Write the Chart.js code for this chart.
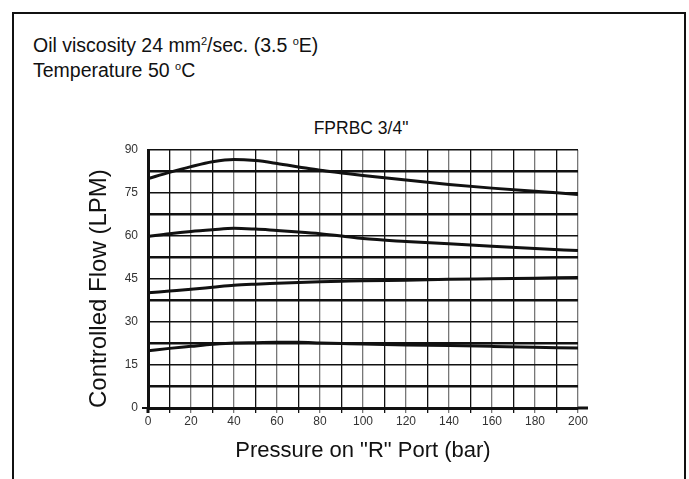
<!DOCTYPE html>
<html>
<head>
<meta charset="utf-8">
<script src="https://cdn.jsdelivr.net/npm/chart.js@4"></script>
<style>
  html, body { margin: 0; padding: 0; background: #fff; }
  body { width: 689px; height: 479px; overflow: hidden; position: relative; font-family: "Liberation Sans", Arial, sans-serif; }
  .frame { position: absolute; left: 12px; top: 12px; width: 670px; height: 500px; border: 2px solid #111; border-bottom: none; }
  .note { position: absolute; left: 33px; font-size: 19.5px; line-height: 22px; color: #111; white-space: nowrap; }
  .note sup { font-size: 11px; vertical-align: 7px; line-height: 0; }
  .ctitle { position: absolute; left: 261px; width: 200px; top: 118px; line-height: 20px; text-align: center; font-size: 17.5px; color: #111; white-space: nowrap; }
  #wrap { position: absolute; left: 0; top: 0; width: 689px; height: 479px; }
</style>
</head>
<body>
<div class="frame"></div>
<div class="note" style="top:34px">Oil viscosity 24 mm<sup>2</sup>/sec. (3.5 <sup>o</sup>E)</div>
<div class="note" style="top:59px">Temperature 50 <sup>o</sup>C</div>
<div class="ctitle" id="ctitle"></div>
<div id="wrap"><canvas id="chart"></canvas></div>
<script>
// pressure on R port (bar)
const pressure = [0, 10, 20, 30, 40, 50, 60, 70, 80, 90, 100, 120, 140, 160, 180, 200];

// controlled flow (LPM), one array per setting
const flow80 = [80, 82.2, 84.2, 85.9, 86.7, 86.3, 85.3, 84.1, 82.9, 82, 81.1, 79.5, 78, 76.7, 75.6, 74.5];
const flow60 = [59.8, 60.8, 61.6, 62.2, 62.7, 62.4, 61.9, 61.4, 60.8, 60, 59.1, 58.1, 57.3, 56.4, 55.6, 54.9];
const flow40 = [40.2, 40.8, 41.4, 42.1, 42.8, 43.2, 43.5, 43.8, 44, 44.2, 44.4, 44.6, 44.9, 45.1, 45.3, 45.5];
const flow20 = [20, 20.8, 21.5, 22.2, 22.7, 22.8, 22.9, 22.9, 22.7, 22.5, 22.3, 22, 21.8, 21.5, 21.2, 20.9];

const title = 'FPRBC 3/4"';
const xTitle = 'Pressure on "R" Port (bar)';
const yTitle = 'Controlled Flow (LPM)';

document.getElementById('ctitle').textContent = title;

const FAMILY = '"Liberation Sans", Arial, sans-serif';
const TICK_FONT = { family: FAMILY, size: 12 };

function toPoints(ys) {
  return ys.map((y, i) => ({ x: pressure[i], y }));
}

function curve(ys) {
  return {
    data: toPoints(ys),
    borderColor: '#111',
    borderWidth: 3,
    pointRadius: 0,
    fill: false,
    cubicInterpolationMode: 'monotone',
  };
}

// extends the axis lines a little past the plot like the printed chart
const axisExtras = {
  id: 'axisExtras',
  afterDraw(chart) {
    const { ctx, scales: { x, y } } = chart;
    const x0 = x.getPixelForValue(0), x200 = x.getPixelForValue(200);
    const y0 = y.getPixelForValue(0);
    ctx.save();
    ctx.strokeStyle = '#111';
    ctx.lineWidth = 3;
    ctx.beginPath();
    ctx.moveTo(x200, y0); ctx.lineTo(x200 + 10, y0);
    ctx.moveTo(x0, y0); ctx.lineTo(x0, y0 + 5);
    ctx.stroke();
    ctx.lineWidth = 2;
    ctx.beginPath();
    ctx.moveTo(x0, y0); ctx.lineTo(x0 - 6, y0);
    ctx.stroke();
    ctx.restore();
  },
};

new Chart(document.getElementById('chart'), {
  type: 'line',
  data: { datasets: [curve(flow80), curve(flow60), curve(flow40), curve(flow20)] },
  plugins: [axisExtras],
  options: {
    responsive: true, maintainAspectRatio: false,
    animation: false,
    layout: { padding: { left: 85, right: 111, top: 150, bottom: 15 } },
    plugins: {
      legend: { display: false },
      tooltip: { enabled: false },
    },
    scales: {
      x: {
        type: 'linear', min: 0, max: 200,
        afterFit(scale) { scale.height = 56; },
        border: { display: true, color: '#111', width: 3 },
        grid: {
          drawTicks: true, tickLength: 5,
          color: c => (c.tick && c.tick.value % 20 === 0 ? '#777' : '#111'),
          lineWidth: 1.3,
        },
        ticks: {
          stepSize: 10, autoSkip: false, maxRotation: 0, padding: 1,
          color: '#333', font: TICK_FONT,
          callback: v => (v % 20 === 0 ? String(v) : ''),
        },
        title: {
          display: true, text: xTitle, color: '#111',
          font: { family: FAMILY, size: 22 },
          padding: { top: 0, bottom: 0 },
        },
      },
      y: {
        type: 'linear', min: 0, max: 90,
        afterFit(scale) { scale.width = 63; },
        border: { display: true, color: '#111', width: 3 },
        grid: {
          drawTicks: false,
          color: '#111',
          lineWidth: c => (c.tick && c.tick.value % 15 !== 0 ? 2.5 : 1.5),
        },
        ticks: {
          stepSize: 7.5, autoSkip: false, padding: 10,
          color: '#333', font: TICK_FONT,
          callback: v => (v % 15 === 0 ? String(v) : ''),
        },
        title: {
          display: true, text: yTitle, color: '#111',
          font: { family: FAMILY, size: 24 }, align: 'start',
          padding: { top: 0, bottom: 0 },
        },
      },
    },
  },
});
</script>
</body>
</html>
